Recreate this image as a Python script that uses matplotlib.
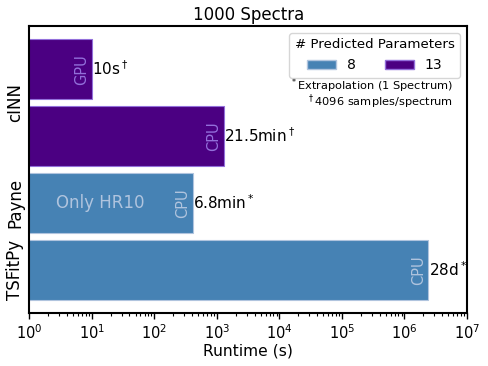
import matplotlib
matplotlib.use("Agg")
import matplotlib.pyplot as plt
from matplotlib.patches import Patch

# Data
methods = ["cINN", "cINN", "Payne", "TSFitPy"]
devices = ["GPU", "CPU", "CPU", "CPU"]
runtimes_s = [10, 21.5 * 60, 6.8 * 60, 28 * 86400]
time_labels = ["10s$^\\dagger$", "21.5min$^\\dagger$", "6.8min$^*$", "28d$^*$"]
n_params = [13, 13, 8, 8]
ytick_pos = [0.5, 2, 3]
ytick_labels = ["cINN", "Payne", "TSFitPy"]
footnotes = ["$^*$Extrapolation (1 Spectrum)", "$^\\dagger$4096 samples/spectrum"]

colors = {8: "steelblue", 13: "indigo"}
light = {8: "lightsteelblue", 13: "mediumpurple"}

fig, ax = plt.subplots(figsize=(4.88, 3.66), dpi=100)
y = list(range(len(methods)))
for yi, rt, npar in zip(y, runtimes_s, n_params):
    ax.barh(yi, rt, height=0.9, color=colors[npar], edgecolor=light[npar], linewidth=0.8)

for yi, rt, dev, lab, npar in zip(y, runtimes_s, devices, time_labels, n_params):
    ax.text(rt * 0.91, yi, dev, rotation=90, ha="right", va="center",
            color=light[npar], fontsize=10.5)
    ax.text(rt * 1.01, yi, lab, ha="left", va="center", color="black", fontsize=11)

ax.text(13.6, 2, "Only HR10", ha="center", va="center", color="lightsteelblue", fontsize=12)

ax.set_xscale("log")
ax.set_xlim(1, 1e7)
ax.invert_yaxis()
ax.set_yticks(ytick_pos)
ax.set_yticklabels(ytick_labels, rotation=90, va="center", fontsize=12)
ax.tick_params(axis="y", length=0, pad=3.5)
ax.tick_params(axis="x", which="major", length=4, width=1, labelsize=10.5)
ax.tick_params(axis="x", which="minor", length=2, width=0.8)
ax.set_xlabel("Runtime (s)", fontsize=11.2, labelpad=1)
ax.set_title("1000 Spectra", fontsize=12, pad=4)
for s in ax.spines.values():
    s.set_linewidth(1.5)

handles = [Patch(facecolor=colors[8], edgecolor=light[8]), Patch(facecolor=colors[13], edgecolor=light[13])]
leg = ax.legend(handles, ["8", "13"], title="# Predicted Parameters", ncol=2,
                loc="upper right", fontsize=10, title_fontsize=9.6,
                handlelength=2.1, handletextpad=0.75, columnspacing=2.1, framealpha=0.8)
for fn, yy in zip(footnotes, [0.791, 0.736]):
    ax.text(0.968, yy, fn, transform=ax.transAxes, ha="right", va="center", fontsize=8.2)

fig.subplots_adjust(left=0.06, right=0.957, top=0.929, bottom=0.145)
fig.savefig("out.png", dpi=100)
